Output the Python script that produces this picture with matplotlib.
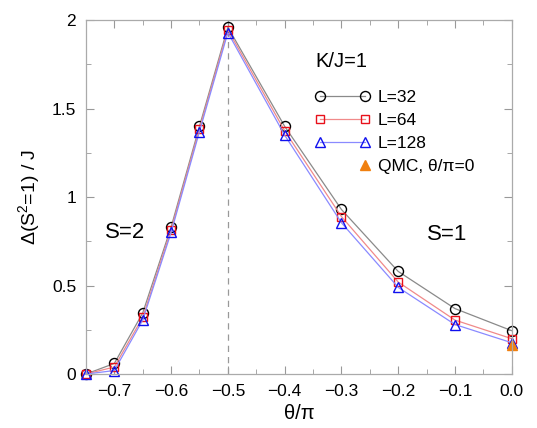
import numpy as np
import matplotlib
matplotlib.use("Agg")
from matplotlib import pyplot as plt
from matplotlib.legend_handler import HandlerLine2D
from matplotlib.ticker import MultipleLocator

plt.rcParams['font.family'] = ['Liberation Sans', 'DejaVu Sans']
plt.rcParams['mathtext.fontset'] = 'custom'
plt.rcParams['mathtext.rm'] = 'Liberation Sans'

# data
theta = [-0.75, -0.7, -0.65, -0.6, -0.55, -0.5, -0.4, -0.3, -0.2, -0.1, 0.0]
gap_L32 = [0.0, 0.06, 0.345, 0.83, 1.40, 1.96, 1.40, 0.93, 0.58, 0.37, 0.245]
gap_L64 = [0.0, 0.04, 0.32, 0.815, 1.385, 1.945, 1.375, 0.89, 0.52, 0.305, 0.20]
gap_L128 = [0.0, 0.02, 0.305, 0.80, 1.37, 1.93, 1.35, 0.855, 0.49, 0.28, 0.177]
qmc_theta = [0.0]
qmc_gap = [0.165]
xtick_vals = [-0.7, -0.6, -0.5, -0.4, -0.3, -0.2, -0.1, 0.0]
xtick_lbls = ['\u22120.7', '\u22120.6', '\u22120.5', '\u22120.4',
              '\u22120.3', '\u22120.2', '\u22120.1', '0.0']
ytick_vals = [0, 0.5, 1, 1.5, 2]
ytick_lbls = ['0', '0.5', '1', '1.5', '2']


class RightMarker(HandlerLine2D):
    # only the right-hand marker of a two point handle
    def create_artists(self, *args, **kw):
        arts = super().create_artists(*args, **kw)
        arts[0].set_markevery([1])
        return arts


fig = plt.figure(figsize=(5.37, 4.28), dpi=100)
ax = fig.add_axes([0.160, 0.126, 0.793, 0.827])

ax.axvline(-0.5, color='#999999', lw=0.9, ls=(0, (5, 4)), zorder=1)

l1, = ax.plot(theta, gap_L32, color='#8a8a8a', lw=0.9, marker='o', ms=7.2,
              mfc='none', mec='black', mew=1.0, label='L=32', clip_on=False)
l2, = ax.plot(theta, gap_L64, color='#f08a8a', lw=0.9, marker='s', ms=6.3,
              mfc='none', mec='#e8101a', mew=1.0, label='L=64', clip_on=False)
l3, = ax.plot(theta, gap_L128, color='#8a8aff', lw=0.9, marker='^', ms=7.5,
              mfc='none', mec='#1010ee', mew=1.0, label='L=128', clip_on=False)
l4, = ax.plot(qmc_theta, qmc_gap, ls='none', marker='^', ms=7,
              color='#f08010', mec='#f08010', label='QMC, \u03b8/\u03c0=0',
              clip_on=False)

ax.set_xlim(-0.75, 0.0)
ax.set_ylim(0, 2)
ax.set_xticks(xtick_vals)
ax.set_xticklabels(xtick_lbls)
ax.xaxis.set_minor_locator(MultipleLocator(0.05))
ax.set_yticks(ytick_vals)
ax.set_yticklabels(ytick_lbls)
ax.yaxis.set_minor_locator(MultipleLocator(0.25))

ax.tick_params(which='both', direction='in', top=True, right=True,
               color='#999999', labelsize=12.5, pad=7)
ax.tick_params(which='major', length=6)
ax.tick_params(which='minor', length=3.5)
for sp in ax.spines.values():
    sp.set_color('#aaaaaa')
    sp.set_linewidth(0.9)

ax.set_xlabel('\u03b8/\u03c0', fontsize=14.5, labelpad=4)
ax.set_ylabel('\u0394(S$^2$=1) / J', fontsize=14, labelpad=6)

ax.text(0.54, 0.882, 'K/J=1', transform=ax.transAxes, fontsize=14.5,
        va='center', ha='left')
ax.text(0.045, 0.40, 'S=2', transform=ax.transAxes, fontsize=16,
        va='center', ha='left')
ax.text(0.80, 0.393, 'S=1', transform=ax.transAxes, fontsize=16,
        va='center', ha='left')

leg = ax.legend(handles=[l1, l2, l3, l4], loc='upper left',
                bbox_to_anchor=(0.538, 0.803), frameon=False, numpoints=2,
                handlelength=3.2, handletextpad=0.4, labelspacing=0.45,
                borderpad=0, borderaxespad=0, fontsize=12.5,
                handler_map={l4: RightMarker(numpoints=2)})

fig.savefig('out.png', dpi=100)
